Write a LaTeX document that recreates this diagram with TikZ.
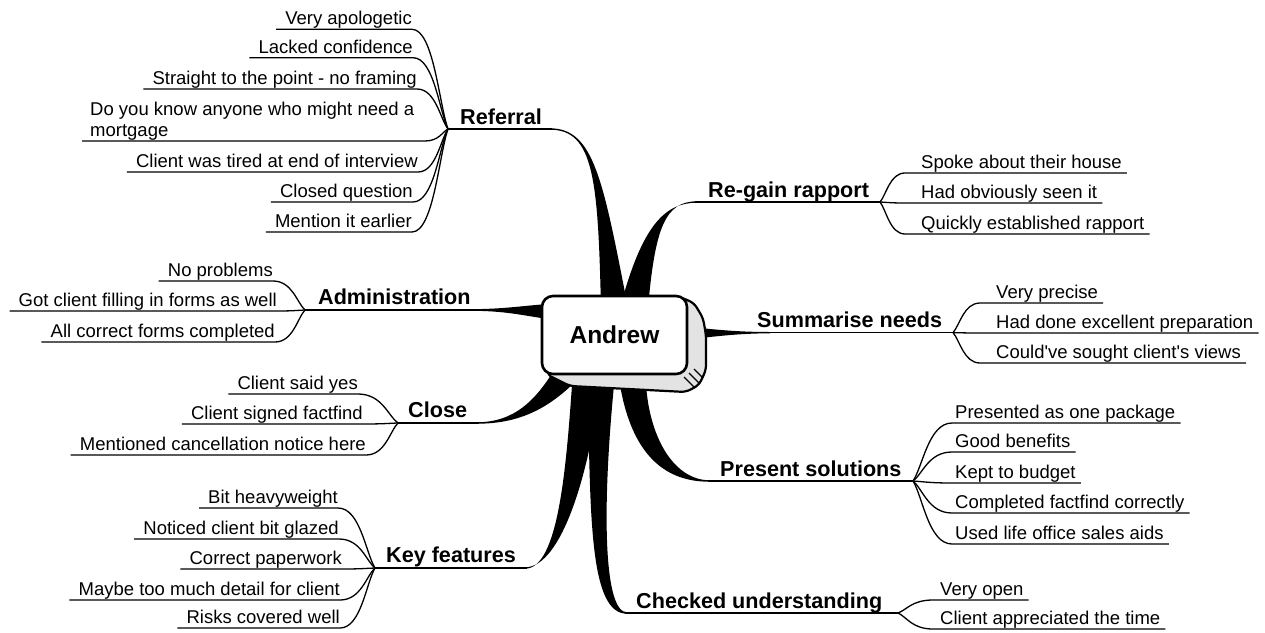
\documentclass[tikz,border=0pt]{standalone}
\usepackage{fontspec}
\setmainfont{Liberation Sans}[Ligatures=TeXOff]
\usetikzlibrary{calc}
\newcommand{\lfont}{\fontsize{18.5}{21}\selectfont}
\newcommand{\mfont}{\fontsize{21.6}{25}\selectfont\bfseries}
\newcommand{\cfont}{\fontsize{24.5}{28}\selectfont\bfseries}
\tikzset{
  leaf/.style={font=\lfont, inner sep=0pt, text height=13.5pt, text depth=4.5pt},
  leafline/.style={line width=1.3pt},
  mainlbl/.style={font=\mfont, inner sep=0pt, anchor=base west},
  mainline/.style={line width=1.7pt},
  branch/.style={fill=black},
}
\newcommand{\lleaf}[4]{%
  \node[leaf, anchor=south east] (#1) at (#2) {#4};
  \draw[leafline] ([xshift=-9pt]#1.south west) -- (#1.south east)
    .. controls ($(#1.south east)!0.6!(#1.south east -| #3)$) and ($(#3)!0.25!(#1.south east)$) .. (#3);
}
\newcommand{\rleaf}[5]{%
  \node[leaf, anchor=south west] (#1) at (#2) {#4};
  \coordinate (#1s) at ([xshift=-#5pt]#1.south west);
  \draw[leafline] (#3) .. controls ($(#3)!0.25!(#1s)$) and ($(#1s)!0.6!(#1s -| #3)$) .. (#1s) -- ([xshift=5pt]#1.south east);
}
\begin{document}
\begin{tikzpicture}[x=1pt,y=-1pt]
\useasboundingbox (0,0) rectangle (1265,632);

% hubs and branch tips
\coordinate (hubR) at (448,129);  \coordinate (tR) at (552,129);
\coordinate (hubG) at (880,202);  \coordinate (tG) at (695,202);
\coordinate (hubS) at (953,332.6);\coordinate (tS) at (766,332.6);
\coordinate (hubA) at (305,310);  \coordinate (tA) at (472,310);
\coordinate (hubC) at (398,423);  \coordinate (tC) at (479,423);
\coordinate (hubK) at (375,568);  \coordinate (tK) at (527,568);
\coordinate (hubP) at (913,481);  \coordinate (tP) at (708,481);
\coordinate (hubU) at (898,613);  \coordinate (tU) at (625,613);

% thick tapered branches
\fill[branch] (550,128.3) .. controls (594,128.3) and (603,180) .. (628,308) -- (601,308) .. controls (598,180) and (594,129.7) .. (550,129.7) -- cycle;
\fill[branch] (697,201.3) .. controls (665,201.3) and (655,228) .. (648,308) -- (620,308) .. controls (642,225) and (665,202.7) .. (697,202.7) -- cycle;
\fill[branch] (470,309.2) .. controls (505,309) and (520,306) .. (548,304) -- (548,319) .. controls (520,315) and (505,310.8) .. (470,310.8) -- cycle;
\fill[branch] (700,328) .. controls (720,330) and (740,332) .. (770,332) -- (770,333.3) .. controls (740,333.4) and (720,336) .. (700,338) -- cycle;
\fill[branch] (477,422.3) .. controls (515,422) and (535,400) .. (553,372) -- (574,383) .. controls (548,408) and (520,423.7) .. (477,423.7) -- cycle;
\fill[branch] (525,568.7) .. controls (558,568.7) and (566,470) .. (572,385) -- (600,385) .. controls (590,470) and (562,567.3) .. (525,567.3) -- cycle;
\fill[branch] (627,613.7) .. controls (590,614) and (590,520) .. (588,385) -- (614,385) .. controls (601,520) and (605,612.3) .. (627,612.3) -- cycle;
\fill[branch] (710,481.7) .. controls (665,482) and (632,455) .. (620,385) -- (646,385) .. controls (650,440) and (675,480.3) .. (710,480.3) -- cycle;

% main underlines
\draw[mainline] (hubR) -- (tR);
\draw[mainline] (tG) -- (hubG);
\draw[mainline] (tS) -- (hubS);
\draw[mainline] (hubA) -- (tA);
\draw[mainline] (hubC) -- (tC);
\draw[mainline] (hubK) -- (tK);
\draw[mainline] (tP) -- (hubP);
\draw[mainline] (tU) -- (hubU);

% central box
\filldraw[fill=gray!22, line width=2.2pt, rounded corners=5pt, line join=round]
  (680,297) -- (694,303) -- (703,318) -- (706,335) -- (706,370) -- (699,385) -- (686,392) -- (570,386) -- (546,374) -- cycle;
\draw[line width=1.2pt] (684,377) -- (695,388) (689,373) -- (700,384) (694,369) -- (703,378);
\node[draw, line width=2.6pt, rounded corners=11pt, fill=white, minimum width=145pt, minimum height=78pt, inner sep=0pt, font=\cfont] (andrew) at (614.5,335) {Andrew};

% main labels
\node[mainlbl] (lR) at (460,124) {Referral};
\node[mainlbl] (lG) at (708,197) {Re-gain rapport};
\node[mainlbl] (lS) at (757,327) {Summarise needs};
\node[mainlbl] (lA) at (318,304) {Administration};
\node[mainlbl] (lC) at (408,417) {Close};
\node[mainlbl] (lK) at (386,562) {Key features};
\node[mainlbl] (lP) at (720,476) {Present solutions};
\node[mainlbl] (lU) at (636,608) {Checked understanding};

% Referral leaves
\lleaf{vap}{412,29.3}{hubR}{Very apologetic}
\lleaf{lc}{413,57.7}{hubR}{Lacked confidence}
\lleaf{stp}{417,89}{hubR}{Straight to the point - no framing}
\node[font=\lfont, inner sep=0pt, align=left, anchor=south west] (dyk) at (90,141) {Do you know anyone who might need a\\mortgage};
\coordinate (dykl) at (82,141);
\coordinate (dykr) at (425,141);
\draw[leafline] (dykl) -- (dykr) .. controls ($(dykr)!0.6!(dykr -| hubR)$) and ($(hubR)!0.25!(dykr)$) .. (hubR);
\lleaf{cwt}{418,172}{hubR}{Client was tired at end of interview}
\lleaf{cq}{413,202}{hubR}{Closed question}
\lleaf{mie}{412,232}{hubR}{Mention it earlier}

% Administration leaves
\lleaf{np}{273,281}{hubA}{No problems}
\lleaf{gc}{277,311}{hubA}{Got client filling in forms as well}
\lleaf{acf}{275,342}{hubA}{All correct forms completed}

% Close leaves
\lleaf{csy}{358,394}{hubC}{Client said yes}
\lleaf{csf}{363,424}{hubC}{Client signed factfind}
\lleaf{mcn}{366,455}{hubC}{Mentioned cancellation notice here}

% Key features leaves
\lleaf{bh}{338,508}{hubK}{Bit heavyweight}
\lleaf{ncb}{339,539}{hubK}{Noticed client bit glazed}
\lleaf{cp}{342,569}{hubK}{Correct paperwork}
\lleaf{mtm}{340,600}{hubK}{Maybe too much detail for client}
\lleaf{rcw}{340,628}{hubK}{Risks covered well}

% Re-gain rapport leaves
\rleaf{spk}{921,173}{hubG}{Spoke about their house}{16}
\rleaf{hos}{921,203}{hubG}{Had obviously seen it}{16}
\rleaf{qer}{921,234}{hubG}{Quickly established rapport}{16}

% Summarise needs leaves
\rleaf{vp}{996,303}{hubS}{Very precise}{16}
\rleaf{hde}{996,333}{hubS}{Had done excellent preparation}{16}
\rleaf{csv}{996,363}{hubS}{Could've sought client's views}{16}

% Present solutions leaves
\rleaf{pop}{955,423}{hubP}{Presented as one package}{3}
\rleaf{gb}{955,452}{hubP}{Good benefits}{3}
\rleaf{ktb}{955,483}{hubP}{Kept to budget}{3}
\rleaf{cfc}{955,513}{hubP}{Completed factfind correctly}{3}
\rleaf{ulo}{955,544}{hubP}{Used life office sales aids}{3}

% Checked understanding leaves
\rleaf{vo}{940,600}{hubU}{Very open}{7}
\rleaf{cat}{940,629}{hubU}{Client appreciated the time}{7}
\end{tikzpicture}
\end{document}
